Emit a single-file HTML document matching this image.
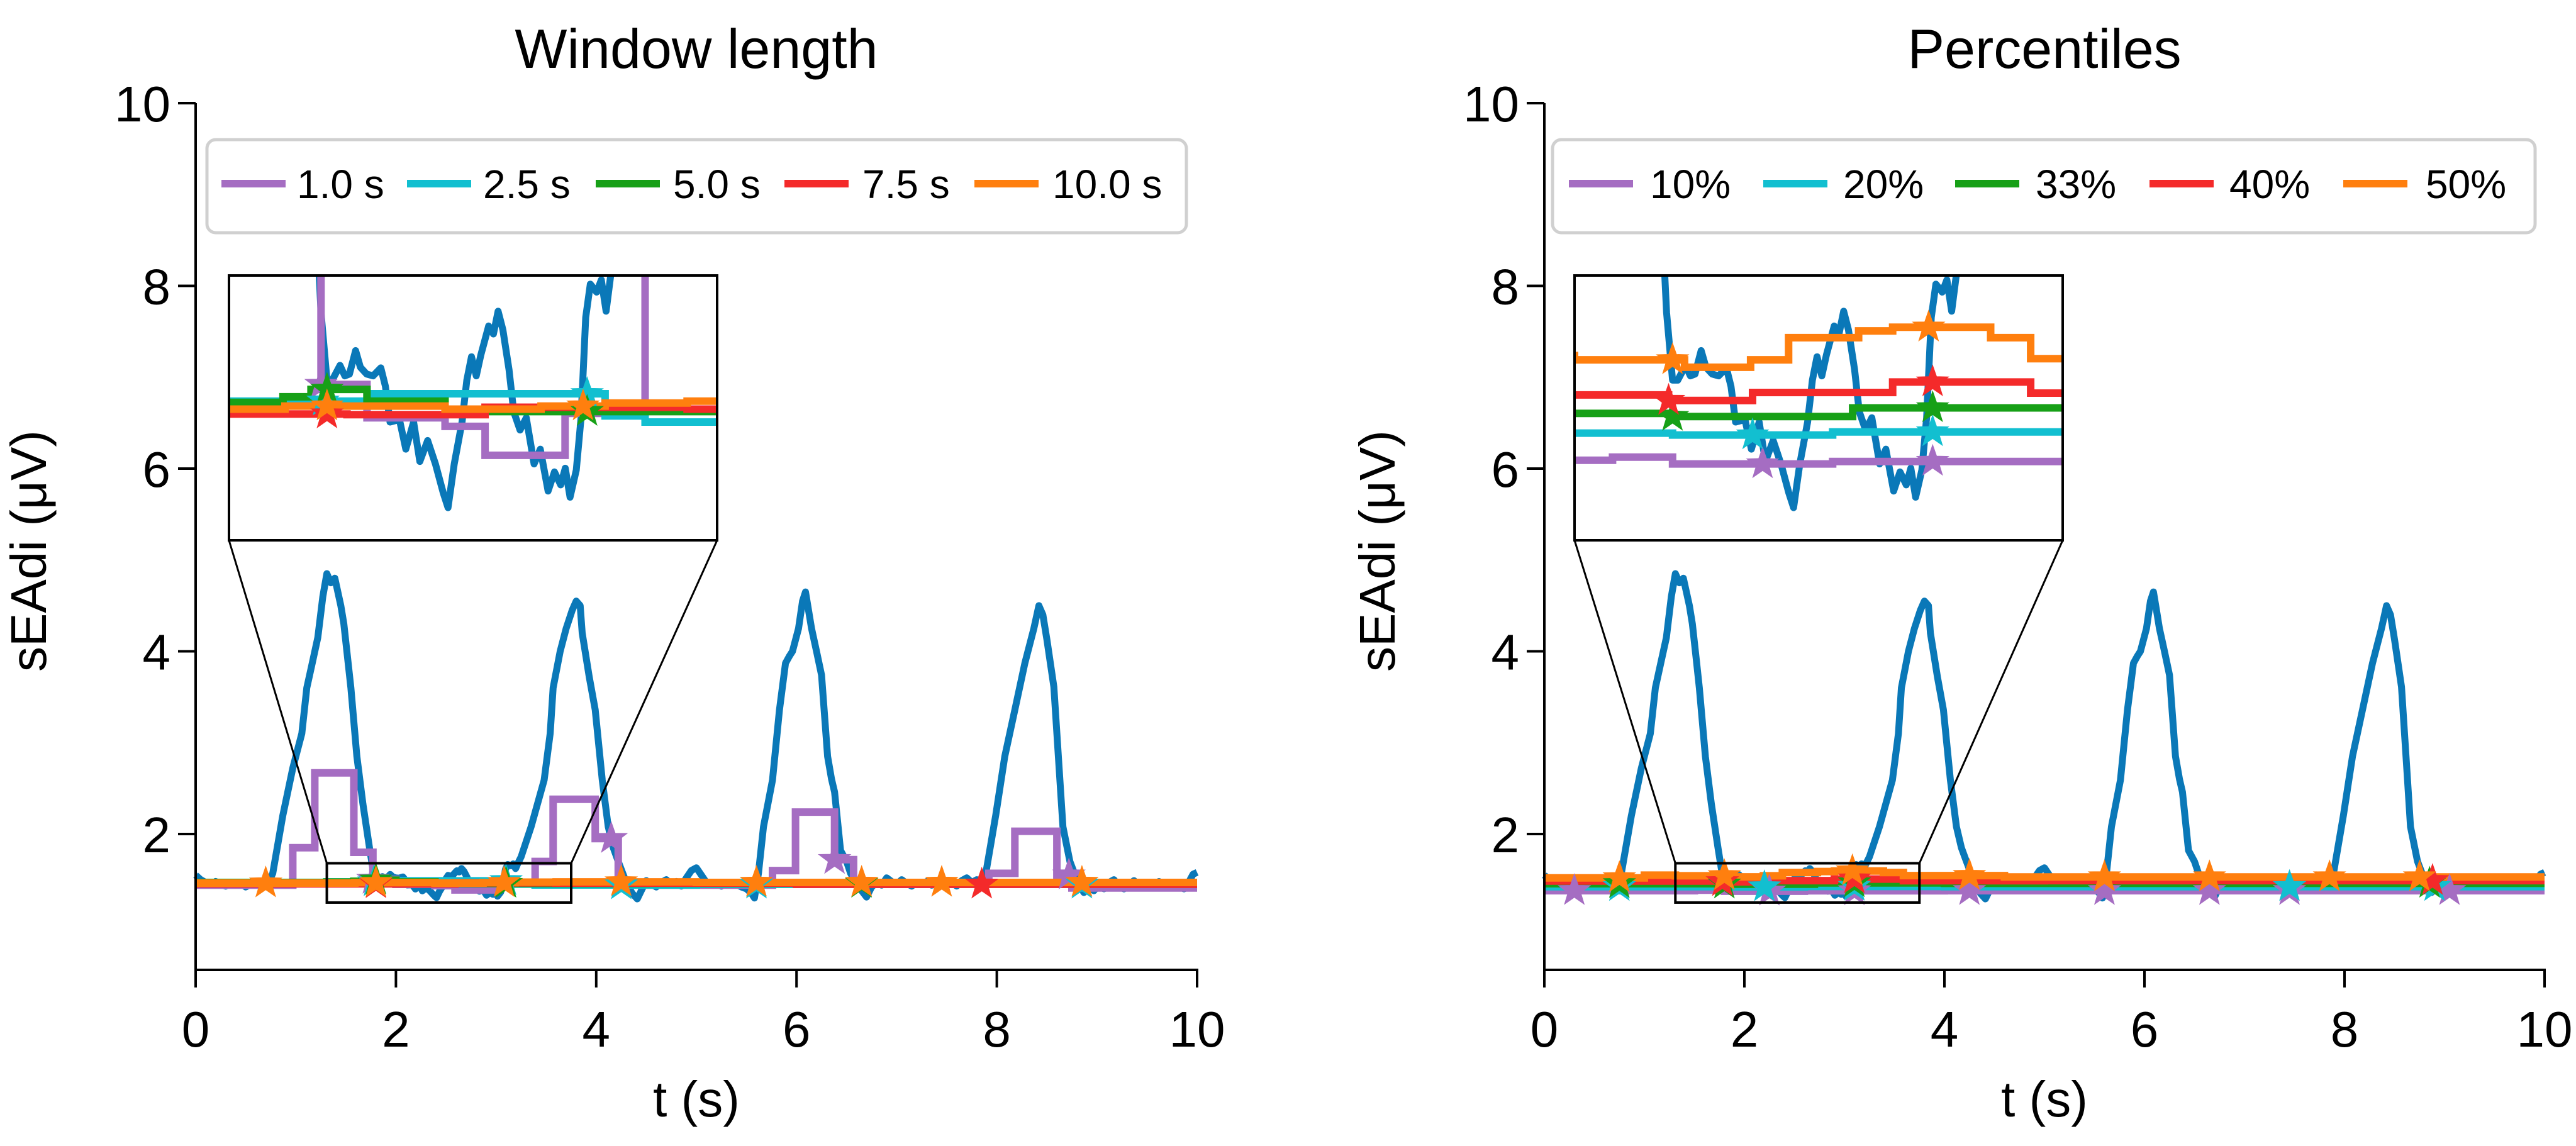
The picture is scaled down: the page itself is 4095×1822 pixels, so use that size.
<!DOCTYPE html>
<html><head><meta charset="utf-8">
<style>
html,body{margin:0;padding:0;background:#fff;}
svg{display:block;font-family:"Liberation Sans",Arial,sans-serif;}
</style></head>
<body>
<svg id="fig" width="4095" height="1822" viewBox="0 0 4095 1822" xmlns="http://www.w3.org/2000/svg"></svg>
<script>
// ---------- data ----------
const xTicks = [0, 2, 4, 6, 8, 10];
const yTicks = [2, 4, 6, 8, 10];
const panelTitles = ["Window length", "Percentiles"];
const leftLabels = ["1.0 s", "2.5 s", "5.0 s", "7.5 s", "10.0 s"];
const rightLabels = ["10%", "20%", "33%", "40%", "50%"];
const seriesColors = ["#a56dc2", "#12bfd0", "#17a017", "#f42a2a", "#ff7f0e"];

const blueT = [0,0.05,0.10,0.15,0.20,0.25,0.30,0.35,0.40,0.45,0.50,0.55,0.60,0.65,0.70,
0.72,0.77,0.87,0.97,1.06,1.11,1.16,1.22,1.27,1.31,1.35,1.39,1.45,1.48,1.52,1.55,1.61,1.67,1.74,1.77,1.80,
1.826,1.865,1.889,1.912,1.943,1.967,1.998,2.03,2.069,2.092,2.115,2.162,2.194,2.233,2.264,2.303,2.342,2.381,2.405,2.436,2.475,2.499,2.522,2.546,2.569,2.608,2.632,2.655,2.679,2.71,2.733,2.765,2.796,2.835,2.866,2.905,2.937,2.968,2.991,3.015,3.046,3.07,3.093,3.116,3.148,3.171,3.195,3.218,
3.25,3.35,3.48,3.54,3.57,3.64,3.70,3.76,3.80,3.84,3.86,3.93,3.99,4.06,4.12,4.17,4.22,4.31,4.36,4.41,4.45,4.50,4.55,4.60,4.65,4.70,4.75,4.80,4.85,4.90,4.95,5.00,5.05,5.10,5.15,5.20,5.25,5.30,5.35,5.40,5.45,5.50,5.55,5.58,
5.62,5.67,5.76,5.83,5.89,5.93,5.96,6.02,6.06,6.09,6.12,6.15,6.20,6.25,6.31,6.35,6.38,6.44,6.50,6.54,6.60,6.65,6.70,6.75,6.80,6.85,6.90,6.95,7.00,7.05,7.10,7.15,7.20,7.25,7.30,7.35,7.40,7.45,7.50,7.55,7.60,7.65,7.70,7.75,7.80,7.85,
7.89,7.99,8.08,8.18,8.28,8.37,8.42,8.46,8.50,8.57,8.63,8.66,8.73,8.82,8.87,8.92,8.97,9.02,9.07,9.12,9.17,9.22,9.27,9.32,9.37,9.42,9.47,9.52,9.57,9.62,9.67,9.72,9.77,9.82,9.87,9.92,9.96,10.0];
const blueV = [1.55,1.50,1.47,1.44,1.48,1.45,1.43,1.47,1.44,1.46,1.42,1.45,1.48,1.44,1.47,
1.45,1.57,2.20,2.72,3.10,3.60,3.85,4.15,4.60,4.85,4.75,4.80,4.50,4.30,3.90,3.60,2.85,2.33,1.82,1.62,1.51,
1.51,1.534,1.517,1.52,1.558,1.531,1.52,1.517,1.53,1.50,1.442,1.446,1.398,1.442,1.378,1.412,1.374,1.327,1.303,1.374,1.442,1.51,1.548,1.517,1.551,1.598,1.585,1.622,1.592,1.527,1.459,1.429,1.449,1.374,1.398,1.33,1.361,1.34,1.367,1.32,1.364,1.449,1.612,1.666,1.653,1.673,1.622,1.68,
1.75,2.08,2.59,3.10,3.60,4.00,4.25,4.45,4.55,4.50,4.20,3.72,3.36,2.59,2.08,1.85,1.70,1.44,1.35,1.29,1.38,1.49,1.45,1.42,1.47,1.50,1.45,1.48,1.43,1.52,1.60,1.63,1.55,1.47,1.44,1.46,1.43,1.47,1.44,1.45,1.42,1.40,1.35,1.30,
1.57,2.08,2.59,3.36,3.87,3.95,4.00,4.25,4.55,4.65,4.45,4.25,4.00,3.74,2.85,2.60,2.46,1.82,1.70,1.57,1.45,1.38,1.31,1.42,1.47,1.44,1.52,1.48,1.45,1.50,1.46,1.43,1.47,1.45,1.48,1.44,1.46,1.49,1.45,1.47,1.43,1.49,1.52,1.47,1.50,1.48,
1.57,2.21,2.85,3.36,3.87,4.25,4.50,4.40,4.13,3.61,2.59,2.08,1.70,1.44,1.36,1.42,1.38,1.45,1.40,1.47,1.50,1.43,1.40,1.45,1.49,1.44,1.41,1.46,1.43,1.48,1.44,1.42,1.47,1.43,1.40,1.48,1.56,1.58];

// Left panel (window length) step series
const wPurpleT = [0,0.97,1.19,1.58,1.77,2.0,2.39,2.59,2.99,3.39,3.57,3.99,4.22,5.76,5.99,6.38,6.57,7.92,8.18,8.6,8.75];
const wPurpleV = [1.44,1.85,2.67,1.80,1.503,1.449,1.435,1.388,1.456,1.70,2.38,1.95,1.44,1.60,2.24,1.72,1.45,1.57,2.03,1.55,1.41];
const wCyanT = [0,1.31,2.0,3.19,3.39,5.0];
const wCyanV = [1.46,1.476,1.488,1.452,1.442,1.45];
const wGreenT = [0,1.31,1.58,1.72,2.0,2.39,4.5];
const wGreenV = [1.47,1.474,1.483,1.495,1.476,1.459,1.46];
const wRedT = [0,1.9,2.59,3.6,6.0];
const wRedV = [1.455,1.454,1.466,1.463,1.45];
const wOrangeT = [0,1.59,2.39,2.87,3.19,3.6,5.0];
const wOrangeV = [1.463,1.468,1.463,1.468,1.473,1.476,1.47];
const wStars = [[1.77,4.15,6.38,8.72],[1.78,3.1,4.25,5.6,8.85],[1.8,3.1,6.65],[1.8,7.85],[0.7,1.8,3.08,4.25,5.6,6.65,7.45,8.85]];

// Right panel (percentiles) step series
const pPurpleT = [0,1.5,1.8,2.6,4.0];
const pPurpleV = [1.38,1.385,1.374,1.378,1.38];
const pCyanT = [0,1.8,2.6,4.0];
const pCyanV = [1.424,1.421,1.426,1.424];
const pGreenT = [0,1.8,2.7,4.0];
const pGreenV = [1.456,1.451,1.465,1.46];
const pRedT = [0,1.78,2.2,2.9,3.59,5.0];
const pRedV = [1.486,1.477,1.49,1.507,1.489,1.49];
const pOrangeT = [0,1.0,1.31,1.86,2.19,2.38,2.73,2.9,3.39,3.59,4.6];
const pOrangeV = [1.52,1.55,1.543,1.531,1.543,1.579,1.59,1.596,1.579,1.545,1.53];
const pStars = [[0.3,2.25,3.1,4.25,5.6,6.65,7.45,9.05],[0.75,2.2,3.1,7.45,8.9],[0.75,1.8,3.1,8.85],[1.78,3.1,8.88],[0.75,1.8,3.08,4.25,5.6,6.65,7.85,8.75]];

// ---------- drawing ----------
const NS = "http://www.w3.org/2000/svg";
const svg = document.getElementById("fig");
function el(tag, attrs, parent){
  const e = document.createElementNS(NS, tag);
  for (const k in attrs) e.setAttribute(k, attrs[k]);
  (parent||svg).appendChild(e);
  return e;
}
function stepVal(T, V, t){ let v=V[0]; for(let i=0;i<T.length;i++){ if(T[i]<=t) v=V[i]; } return v; }
function stepPath(T, V, sx, sy){
  let d = "";
  for (let i=0;i<T.length;i++){
    const t0=T[i], t1=(i+1<T.length)?T[i+1]:10;
    d += (i===0?"M":"L")+sx(t0).toFixed(1)+","+sy(V[i]).toFixed(1)+"L"+sx(t1).toFixed(1)+","+sy(V[i]).toFixed(1);
  }
  return d;
}
function linePath(T, V, sx, sy){
  return T.map((t,i)=>(i?"L":"M")+sx(t).toFixed(1)+","+sy(V[i]).toFixed(1)).join("");
}
function starPts(cx, cy, R){
  const r = R*0.4, p=[];
  for (let i=0;i<10;i++){
    const a = -Math.PI/2 + i*Math.PI/5, rr = i%2?r:R;
    p.push((cx+rr*Math.cos(a)).toFixed(1)+","+(cy+rr*Math.sin(a)).toFixed(1));
  }
  return p.join(" ");
}

const Y0 = 164, YU = 145.25;
const INS = {t0:1.31, t1:3.75, v0:1.25, v1:1.68};

function drawPanel(px0, px1, title, labels, steps, stars, insetX, legBox, legLines, legTexts, key){
  const g = el("g", { });
  const sx = t => px0 + (px1-px0)*t/10;
  const sy = v => Y0 + (10-v)*YU;
  const ix0 = insetX, iw = 776, iy0 = 438, ih = 421;
  const isx = t => ix0 + (t-INS.t0)/(INS.t1-INS.t0)*iw;
  const isy = v => iy0 + (INS.v1-v)/(INS.v1-INS.v0)*ih;
  const clipId = key+"-clip", iclipId = key+"-iclip";
  const defs = el("defs", {}, g);
  const cp = el("clipPath", {id:clipId}, defs);
  el("rect", {x:px0-30, y:Y0, width:(px1-px0)+60, height:1542-Y0}, cp);
  const icp = el("clipPath", {id:iclipId}, defs);
  el("rect", {x:ix0, y:iy0, width:iw, height:ih}, icp);

  const tt = el("text", {x:(px0+px1)/2, y:108, "text-anchor":"middle", "font-size":88, fill:"#000"}, g);
  tt.textContent = title;
  
  

  const dg = el("g", {"clip-path":"url(#"+clipId+")"}, g);
  
  
  const bl = el("path", {d:linePath(blueT, blueV, sx, sy), fill:"none", stroke:"#0a78b8", "stroke-width":11, "stroke-linejoin":"round"}, dg);
  
  
  steps.forEach((s,i)=>{
    const p = el("path", {d:stepPath(s[0], s[1], sx, sy), fill:"none", stroke:seriesColors[i], "stroke-width":12}, dg);
    
    
  });
  stars.forEach((arr,i)=>{
    arr.forEach(t=>{
      const s = el("polygon", {points:starPts(sx(t), sy(stepVal(steps[i][0], steps[i][1], t)), 25), fill:seriesColors[i], stroke:seriesColors[i], "stroke-width":2}, dg);
      
      
    });
  });

  const zr = el("rect", {x:sx(INS.t0), y:sy(INS.v1), width:sx(INS.t1)-sx(INS.t0), height:sy(INS.v0)-sy(INS.v1), fill:"none", stroke:"#000", "stroke-width":4}, g);
  
  
  const c1 = el("line", {x1:ix0, y1:iy0+ih, x2:sx(INS.t0), y2:sy(INS.v1), stroke:"#000", "stroke-width":3}, g);
  
  
  const c2 = el("line", {x1:ix0+iw, y1:iy0+ih, x2:sx(INS.t1), y2:sy(INS.v1), stroke:"#000", "stroke-width":3}, g);
  
  

  const ig = el("g", {}, g);
  
  
  el("rect", {x:ix0, y:iy0, width:iw, height:ih, fill:"#fff"}, ig);
  const idg = el("g", {"clip-path":"url(#"+iclipId+")"}, ig);
  el("path", {d:linePath(blueT, blueV, isx, isy), fill:"none", stroke:"#0a78b8", "stroke-width":11, "stroke-linejoin":"round"}, idg);
  steps.forEach((s,i)=>{
    el("path", {d:stepPath(s[0], s[1], isx, isy), fill:"none", stroke:seriesColors[i], "stroke-width":12}, idg);
  });
  stars.forEach((arr,i)=>{
    arr.forEach(t=>{
      el("polygon", {points:starPts(isx(t), isy(stepVal(steps[i][0], steps[i][1], t)), 25), fill:seriesColors[i], stroke:seriesColors[i], "stroke-width":2}, idg);
    });
  });
  el("rect", {x:ix0, y:iy0, width:iw, height:ih, fill:"none", stroke:"#000", "stroke-width":4}, ig);

  const ag = el("g", {}, g);
  
  
  el("line", {x1:px0, y1:Y0, x2:px0, y2:1544, stroke:"#000", "stroke-width":4}, ag);
  el("line", {x1:px0-2, y1:1542, x2:px1+2, y2:1542, stroke:"#000", "stroke-width":4}, ag);
  yTicks.forEach(v=>{
    el("line", {x1:px0-28, y1:sy(v), x2:px0, y2:sy(v), stroke:"#000", "stroke-width":4}, ag);
    const t = el("text", {x:px0-40, y:sy(v)+29, "text-anchor":"end", "font-size":80}, ag);
    t.textContent = v;
    
    
  });
  xTicks.forEach(v=>{
    el("line", {x1:sx(v), y1:1542, x2:sx(v), y2:1570, stroke:"#000", "stroke-width":4}, ag);
    const t = el("text", {x:sx(v), y:1664, "text-anchor":"middle", "font-size":80}, ag);
    t.textContent = v;
    
    
  });
  const xl = el("text", {x:(px0+px1)/2, y:1775, "text-anchor":"middle", "font-size":80}, ag);
  xl.textContent = "t (s)";
  
  
  const ylx = px0 - 238;
  const yl = el("text", {x:ylx, y:876, "text-anchor":"middle", "font-size":80, transform:"rotate(-90 "+ylx+" 876)"}, ag);
  yl.textContent = "sEAdi (\u03bcV)";
  
  

  const lg = el("g", {}, g);
  
  
  el("rect", {x:legBox[0], y:222, width:legBox[1]-legBox[0], height:148, rx:14, fill:"#fff", "fill-opacity":0.85, stroke:"#d0d0d0", "stroke-width":5}, lg);
  labels.forEach((lab,i)=>{
    const e = el("g", {}, lg);
    
    
    el("line", {x1:legLines[i], y1:292, x2:legLines[i]+102, y2:292, stroke:seriesColors[i], "stroke-width":12}, e);
    const tx = el("text", {x:legTexts[i], y:315, "font-size":64}, e);
    tx.textContent = lab;
  });
}

drawPanel(311, 1903, panelTitles[0], leftLabels,
  [[wPurpleT,wPurpleV],[wCyanT,wCyanV],[wGreenT,wGreenV],[wRedT,wRedV],[wOrangeT,wOrangeV]],
  wStars, 364, [329,1886], [352,647,947,1247,1549], [472,768,1070,1371,1673], "window-length");
drawPanel(2455, 4045, panelTitles[1], rightLabels,
  [[pPurpleT,pPurpleV],[pCyanT,pCyanV],[pGreenT,pGreenV],[pRedT,pRedV],[pOrangeT,pOrangeV]],
  pStars, 2503, [2468,4030], [2494,2803,3108,3417,3725], [2623,2930,3236,3544,3856], "percentiles");
</script>
</body></html>
